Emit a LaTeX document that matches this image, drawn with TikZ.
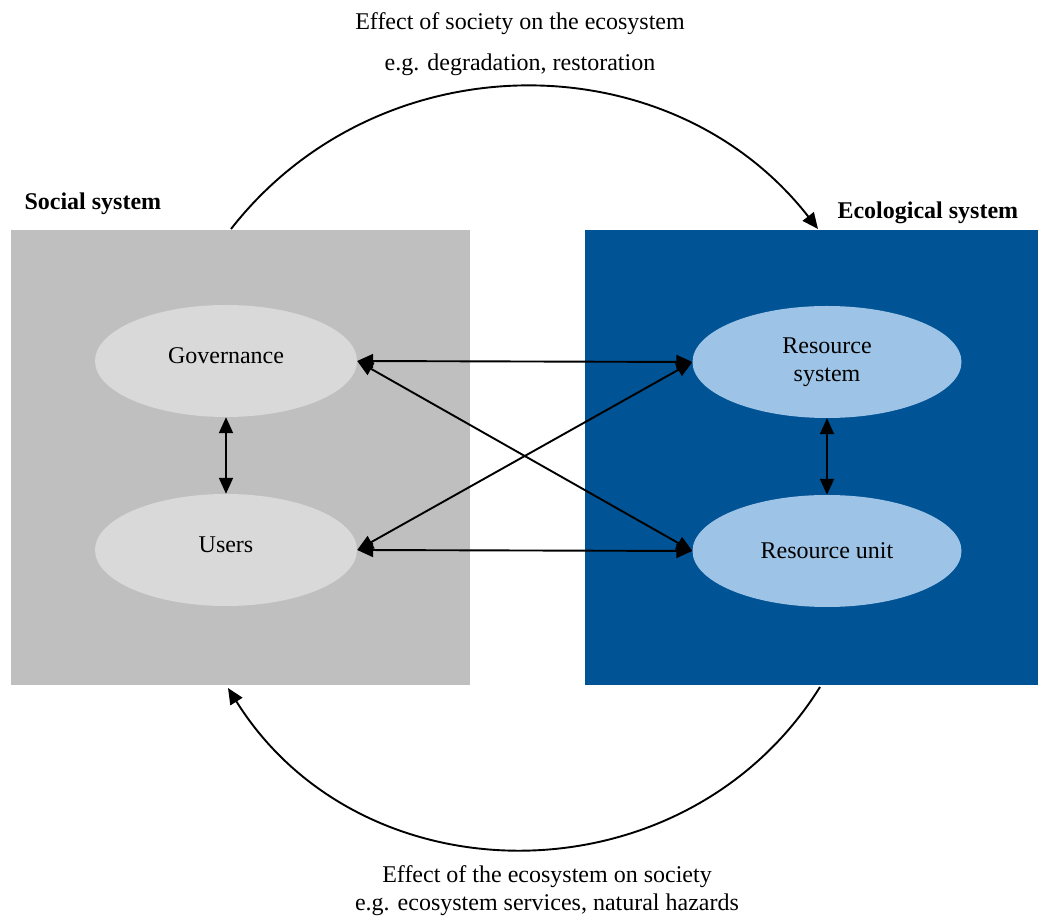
\documentclass[tikz,border=0pt]{standalone}
\usepackage{fontspec}
\setmainfont{Liberation Serif}
\usepackage{tikz}
\usetikzlibrary{arrows.meta,shapes.geometric}
\definecolor{socialgray}{RGB}{191,191,191}
\definecolor{govgray}{RGB}{217,217,217}
\definecolor{ecoblue}{RGB}{0,83,148}
\definecolor{reslight}{RGB}{157,195,230}
\tikzset{
  part/.style={ellipse,minimum width=262pt,minimum height=112pt,inner sep=0pt,align=center},
  twoway/.style={<->,line width=1.9pt},
  effect/.style={->,line width=1.9pt},
}
\begin{document}
\begin{tikzpicture}[x=1pt,y=1pt,>={Triangle[length=16pt,width=14pt]},
    font=\fontsize{24}{28}\selectfont]
        \useasboundingbox (0,0) rectangle (1038,918);
        % background
        \fill[socialgray] (11,233) rectangle (470,688);
        \fill[ecoblue] (585,233) rectangle (1038,688);
        \node[anchor=west,font=\fontsize{24}{28}\selectfont\bfseries] (soclabel) at (21,714) {Social system};
        \node[anchor=west,font=\fontsize{24}{28}\selectfont\bfseries] (ecolabel) at (834,705) {Ecological system};
        % parts of the two systems
        \node[part,fill=govgray,text depth=10pt] (gov) at (226,557) {Governance};
        \node[part,fill=govgray,text depth=10pt] (users) at (226,368) {Users};
        \node[part,fill=reslight,minimum width=269pt] (rsys) at (827,556) {Resource\\system};
        \node[part,fill=reslight,minimum width=269pt] (runit) at (827,367) {Resource unit};
        % links between the parts
        \draw[twoway] (gov.south) -- (users.north);
        \draw[twoway] (rsys.south) -- (runit.north);
        \foreach \a/\b in {gov/rsys,gov/runit,users/rsys,users/runit}
          \draw[twoway] (\a.east) -- (\b.west);
        % effects between the systems
        \coordinate (topstart) at (231,689);
        \coordinate (topend) at (818,689);
        \coordinate (botstart) at (820,231);
        \coordinate (botend) at (228,230);
        \draw[effect] (topstart) to[out=52,in=128,looseness=1.05] (topend);
        \draw[effect] (botstart) to[out=-122,in=-58,looseness=1.1] (botend);
        \node (toptext) at (520,894) {Effect of society on the ecosystem};
        \node (topeg) at (520,853) {e.g. degradation, restoration};
        \node[align=center] (bottext) at (547,27) {Effect of the ecosystem on society\\e.g. ecosystem services, natural hazards};
\end{tikzpicture}
\end{document}
